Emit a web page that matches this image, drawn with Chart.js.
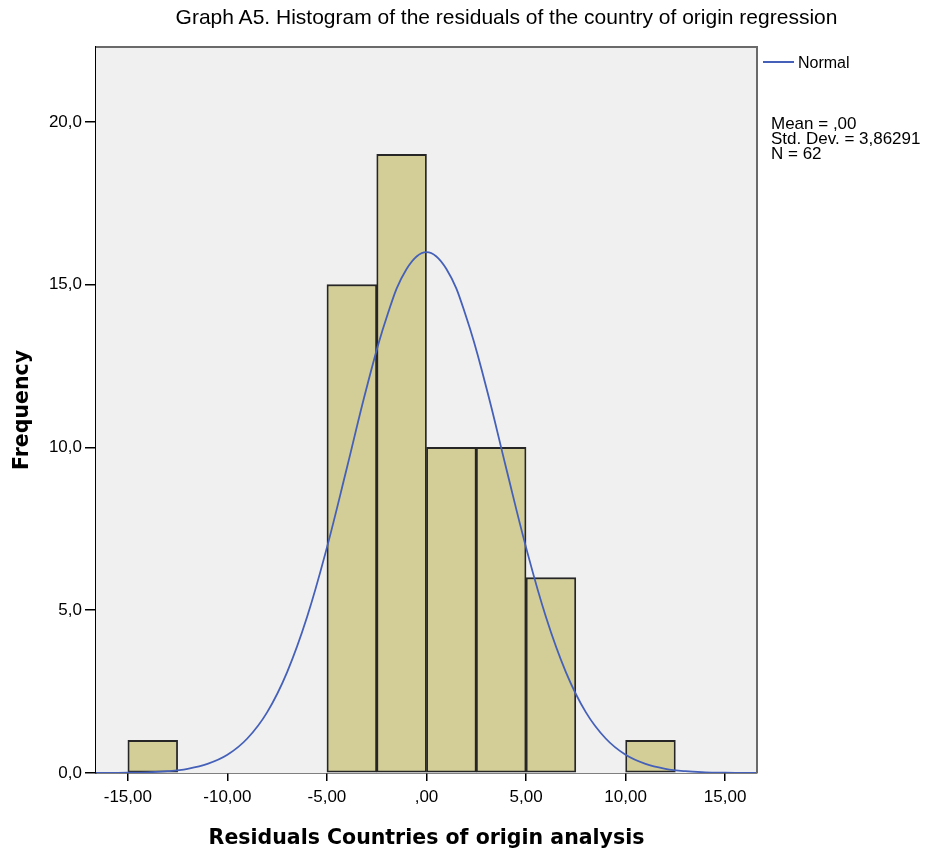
<!DOCTYPE html>
<html>
<head>
<meta charset="utf-8">
<script src="https://cdn.jsdelivr.net/npm/chart.js@4.4.1/dist/chart.umd.min.js"></script>
<style>
  html, body { margin: 0; padding: 0; background: #ffffff; }
  #wrap { position: relative; width: 929px; height: 851px; }
  #c { position: absolute; left: 0; top: 0; }
  .txt { position: absolute; font-family: "Liberation Sans", Arial, sans-serif; color: #000; white-space: nowrap; }
  #title { left: 0; width: 1013px; top: 5px; text-align: center; font-size: 21px; }
  #legline { position: absolute; left: 763px; top: 61px; width: 31px; height: 0; border-top: 2px solid #4560b8; }
  #legtext { left: 798px; top: 54px; font-size: 16px; }
  #stats { left: 771px; top: 116px; font-size: 17px; line-height: 15px; }
</style>
</head>
<body>
<div id="wrap">
  <canvas id="c" width="929" height="851"></canvas>
  <div class="txt" id="title">Graph A5. Histogram of the residuals of the country of origin regression</div>
  <div id="legline"></div>
  <div class="txt" id="legtext">Normal</div>
  <div class="txt" id="stats">Mean = ,00<br>Std. Dev. = 3,86291<br>N = 62</div>
</div>
<script>
// Histogram bins (centers of 2.5-wide bins) and frequencies
const binCenters = [-13.75, -3.75, -1.25, 1.25, 3.75, 6.25, 11.25];
const frequencies = [1, 15, 19, 10, 10, 6, 1];

// Normal curve
const curveX = [-16.6, -16, -15, -14, -13, -12, -11, -10, -9, -8, -7, -6, -5, -4, -3, -2, -1, 0, 1, 2, 3, 4, 5, 6, 7, 8, 9, 10, 11, 12, 13, 14, 15, 16, 16.6];
const curveY = [0.002, 0.003, 0.009, 0.022, 0.055, 0.13, 0.28, 0.56, 1.06, 1.87, 3.10, 4.79, 6.93, 9.37, 11.85, 14.0, 15.48, 16.0, 15.48, 14.0, 11.85, 9.37, 6.93, 4.79, 3.10, 1.87, 1.06, 0.56, 0.28, 0.13, 0.055, 0.022, 0.009, 0.003, 0.002];

// Axis ticks
const xTicks = [-15, -10, -5, 0, 5, 10, 15];
const xTickLabels = ['-15,00', '-10,00', '-5,00', ',00', '5,00', '10,00', '15,00'];
const yTicks = [0, 5, 10, 15, 20];
const yTickLabels = ['0,0', '5,0', '10,0', '15,0', '20,0'];

const bgPlugin = {
  id: 'bg',
  beforeDatasetsDraw(chart) {
    const a = chart.chartArea, ctx = chart.ctx;
    ctx.save();
    ctx.fillStyle = '#f0f0f0';
    ctx.fillRect(a.left, a.top, a.right - a.left, a.bottom - a.top);
    ctx.restore();
  },
  afterDraw(chart) {
    const a = chart.chartArea, ctx = chart.ctx;
    ctx.save();
    ctx.strokeStyle = '#6a6a6a';
    ctx.lineWidth = 2;
    ctx.beginPath();
    ctx.moveTo(a.left, a.top);
    ctx.lineTo(a.right, a.top);
    ctx.lineTo(a.right, a.bottom);
    ctx.stroke();
    ctx.restore();
  }
};

new Chart(document.getElementById('c'), {
  type: 'bar',
  data: {
    datasets: [
      {
        type: 'line',
        label: 'Normal',
        data: curveX.map((x, i) => ({ x: x, y: curveY[i] })),
        borderColor: '#4560b8',
        borderWidth: 1.8,
        pointRadius: 0,
        tension: 0.4,
        fill: false,
        order: 0
      },
      {
        type: 'bar',
        label: 'Frequency',
        data: binCenters.map((x, i) => ({ x: x, y: frequencies[i] })),
        backgroundColor: '#d3ce97',
        borderColor: '#262626',
        borderWidth: 1.8,
        borderSkipped: false,
        barPercentage: 1.0,
        categoryPercentage: 1.0,
        order: 1
      }
    ]
  },
  options: {
    responsive: false,
    animation: false,
    layout: { padding: { left: 0, top: 47, right: 172, bottom: 0 } },
    plugins: { legend: { display: false }, title: { display: false }, tooltip: { enabled: false } },
    scales: {
      x: {
        type: 'linear',
        min: -16.6,
        max: 16.6,
        offset: false,
        afterBuildTicks: s => { s.ticks = xTicks.map(v => ({ value: v })); },
        afterFit: s => { s.height = 78; },
        ticks: {
          callback: (v) => { const i = xTicks.indexOf(v); return i >= 0 ? xTickLabels[i] : ''; },
          color: '#000',
          font: { family: '"Liberation Sans", Arial, sans-serif', size: 17 },
          padding: 6,
          maxRotation: 0,
          autoSkip: false
        },
        grid: { drawOnChartArea: false, offset: false, tickLength: 8, color: '#000', lineWidth: 1.5 },
        border: { color: '#000', width: 1.5 },
        title: {
          display: true,
          text: 'Residuals Countries of origin analysis',
          color: '#000',
          font: { family: '"DejaVu Sans", Verdana, sans-serif', size: 20.5, weight: 'bold' },
          padding: { top: 3, bottom: 0 }
        }
      },
      y: {
        type: 'linear',
        min: 0,
        max: 22.3,
        afterBuildTicks: s => { s.ticks = yTicks.map(v => ({ value: v })); },
        afterFit: s => { s.width = 96; },
        ticks: {
          callback: (v) => { const i = yTicks.indexOf(v); return i >= 0 ? yTickLabels[i] : ''; },
          color: '#000',
          font: { family: '"Liberation Sans", Arial, sans-serif', size: 17 },
          padding: 3
        },
        grid: { drawOnChartArea: false, tickLength: 11, color: '#000', lineWidth: 1.5 },
        border: { color: '#000', width: 1.5 },
        title: {
          display: true,
          text: 'Frequency',
          color: '#000',
          font: { family: '"DejaVu Sans", Verdana, sans-serif', size: 20.5, weight: 'bold' },
          padding: { top: 10, bottom: 10 }
        }
      }
    }
  },
  plugins: [bgPlugin]
});
</script>
</body>
</html>
